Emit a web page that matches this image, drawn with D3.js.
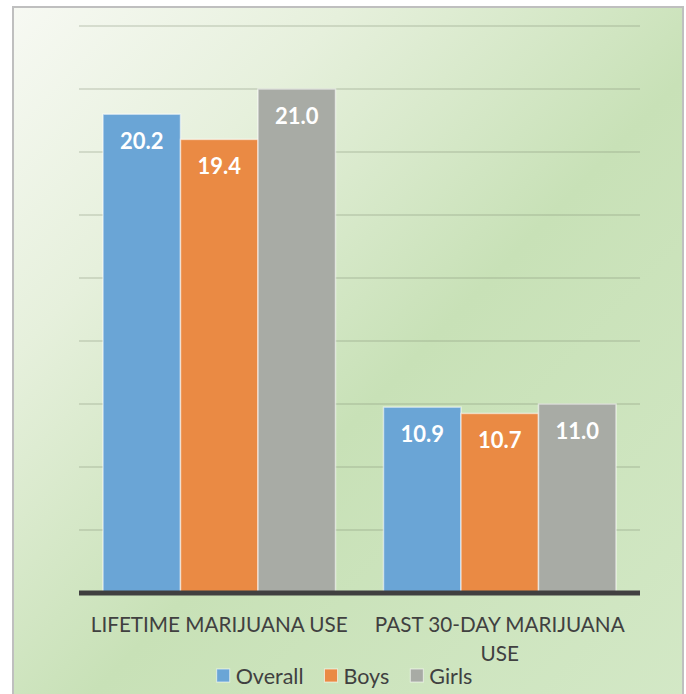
<!DOCTYPE html>
<meta charset="utf-8">
<head>
<script src="https://d3js.org/d3.v7.min.js"></script>
<style>
  body { margin: 0; background: #fff; }
  svg { display: block; }
</style>
</head>
<body>
<svg id="chart" width="686" height="694"></svg>
<script>
// chart data
var categories = ["LIFETIME MARIJUANA USE", "PAST 30-DAY MARIJUANA USE"];
var seriesNames = ["Overall", "Boys", "Girls"];
var overall = [20.2, 10.9];
var boys = [19.4, 10.7];
var girls = [21.0, 11.0];
var yTicks = [5, 7, 9, 11, 13, 15, 17, 19, 21, 23];

var colors = { "Overall": "#6aa5d6", "Boys": "#ea8a44", "Girls": "#a8aba5" };
var values = { "Overall": overall, "Boys": boys, "Girls": girls };
var font = "Lato, 'Open Sans', sans-serif";

var svg = d3.select("#chart");

// background gradient
var defs = svg.append("defs");
var grad = defs.append("linearGradient")
    .attr("id", "bg").attr("x1", "0").attr("y1", "0").attr("x2", "1").attr("y2", "1");
grad.append("stop").attr("offset", "0%").attr("stop-color", "#f7f9f3");
grad.append("stop").attr("offset", "25%").attr("stop-color", "#e6f0dc");
grad.append("stop").attr("offset", "55%").attr("stop-color", "#c8e1b7");
grad.append("stop").attr("offset", "100%").attr("stop-color", "#d3e8c6");

svg.append("rect")
    .attr("x", 13).attr("y", 7).attr("width", 670).attr("height", 700)
    .attr("fill", "url(#bg)")
    .attr("stroke", "#bfbfbf").attr("stroke-width", 2);

var left = 79, right = 640;
var y = d3.scaleLinear().domain([5, 23]).range([593, 26]);
var x0 = d3.scaleBand().domain(categories).range([left, right]);
var x1 = d3.scaleBand().domain(seriesNames).range([24, x0.bandwidth() - 24]);

// gridlines
svg.append("g").selectAll("line")
    .data(yTicks.slice(1))
    .join("line")
    .attr("x1", left).attr("x2", right)
    .attr("y1", function(d){ return y(d); })
    .attr("y2", function(d){ return y(d); })
    .attr("stroke", "#7d8a72").attr("stroke-opacity", 0.24).attr("stroke-width", 2);

// bars
var groups = svg.append("g").selectAll("g")
    .data(categories)
    .join("g")
    .attr("transform", function(d){ return "translate(" + x0(d) + ",0)"; });

groups.each(function(cat, ci){
    var g = d3.select(this);
    seriesNames.forEach(function(s){
        var v = values[s][ci];
        g.append("rect")
            .attr("x", x1(s)).attr("width", x1.bandwidth())
            .attr("y", y(v)).attr("height", y(yTicks[0]) - y(v))
            .attr("fill", colors[s])
            .attr("stroke", "#ffffff").attr("stroke-opacity", 0.55).attr("stroke-width", 1.5);
        g.append("text")
            .attr("x", x1(s) + x1.bandwidth() / 2)
            .attr("y", y(v) + 35)
            .attr("text-anchor", "middle")
            .attr("font-family", font).attr("font-weight", "bold")
            .attr("font-size", 22).attr("fill", "#ffffff")
            .text(v.toFixed(1));
    });
});

// baseline axis
svg.append("line")
    .attr("x1", left).attr("x2", right)
    .attr("y1", y(5)).attr("y2", y(5))
    .attr("stroke", "#404040").attr("stroke-width", 5);

// category labels, wrapped to band width
var catLabels = svg.append("g").selectAll("text")
    .data(categories)
    .join("text")
    .attr("x", function(d){ return x0(d) + x0.bandwidth() / 2; })
    .attr("y", 632)
    .attr("text-anchor", "middle")
    .attr("font-family", font).attr("font-size", 20.7)
    .attr("fill", "#404040");

catLabels.each(function(d){
    var t = d3.select(this);
    var words = d.split(" ");
    var lines = [], line = [];
    var cx = +t.attr("x");
    var tspan = t.append("tspan").attr("x", cx);
    words.forEach(function(w){
        line.push(w);
        tspan.text(line.join(" "));
        if (tspan.node().getComputedTextLength() > x0.bandwidth() - 4 && line.length > 1) {
            line.pop();
            lines.push(line.join(" "));
            line = [w];
        }
    });
    lines.push(line.join(" "));
    tspan.remove();
    lines.forEach(function(l, i){
        t.append("tspan").attr("x", cx).attr("dy", i ? 29 : 0).text(l);
    });
});

// legend
var legend = svg.append("g");
var lx = 0;
seriesNames.forEach(function(s){
    var item = legend.append("g").attr("transform", "translate(" + lx + ",0)");
    item.append("rect")
        .attr("x", 0).attr("y", 669).attr("width", 13).attr("height", 13)
        .attr("fill", colors[s])
        .attr("stroke", "#ffffff").attr("stroke-opacity", 0.6).attr("stroke-width", 1);
    var txt = item.append("text")
        .attr("x", 19).attr("y", 684)
        .attr("font-family", font).attr("font-size", 21.5)
        .attr("fill", "#404040")
        .text(s);
    lx += 19 + txt.node().getComputedTextLength() + 21;
});
var lw = lx - 21;
legend.attr("transform", "translate(" + (344.5 - lw / 2) + ",0)");
</script>
</body>
